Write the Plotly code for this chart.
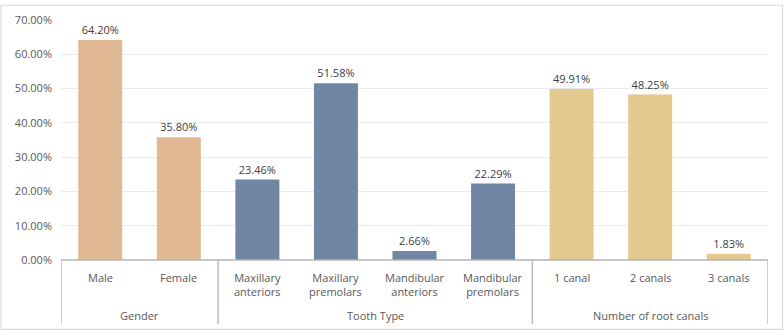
import plotly.graph_objects as go

groups = ["Gender", "Tooth Type", "Number of root canals"]
group_members = [
    ["Male", "Female"],
    ["Maxillary<br>anteriors", "Maxillary<br>premolars", "Mandibular<br>anteriors", "Mandibular<br>premolars"],
    ["1 canal", "2 canals", "3 canals"],
]
gender_values = [0.6420, 0.3580]
tooth_values = [0.2346, 0.5158, 0.0266, 0.2229]
canal_values = [0.4991, 0.4825, 0.0183]
group_values = [gender_values, tooth_values, canal_values]
group_colors = ["#E0B994", "#7086A4", "#E4C98E"]
y_ticks = [0, 0.1, 0.2, 0.3, 0.4, 0.5, 0.6, 0.7]

W, H = 784, 332
ML, MR, MT, MB = 61, 16, 16, 72
PW, PH = W - ML - MR, H - MT - MB

categories = [c for g in group_members for c in g]
text_color = "#595959"
line_color = "#B4B4B4"
font = "Open Sans, Noto Sans, sans-serif"

fig = go.Figure()
start = 0
for g, members, vals, col in zip(groups, group_members, group_values, group_colors):
    idx = list(range(start, start + len(members)))
    fig.add_trace(go.Bar(
        x=idx, y=vals, marker=dict(color=col, line=dict(width=0)),
        text=[f"{v*100:.2f}%" for v in vals], textposition="outside",
        textfont=dict(family=font, size=11, color="#404040"),
        cliponaxis=False, showlegend=False, hoverinfo="skip",
    ))
    start += len(members)

def py(px):
    # pixel offset below plot bottom -> paper coordinate
    return -px / PH

annotations = []
for i, c in enumerate(categories):
    annotations.append(dict(
        x=i, xref="x", y=py(268 - (H - MB)), yref="paper", yanchor="top",
        text=c, showarrow=False, font=dict(family=font, size=11, color=text_color),
    ))
# group labels and separators
shapes = []
start = 0
bounds = [-0.5]
for g, members in zip(groups, group_members):
    n = len(members)
    center = start + (n - 1) / 2
    annotations.append(dict(
        x=center, xref="x", y=py(316 - (H - MB)), yref="paper", yanchor="middle",
        text=g, showarrow=False, font=dict(family=font, size=11, color=text_color),
    ))
    start += n
    bounds.append(start - 0.5)
for b in bounds:
    shapes.append(dict(type="line", xref="x", yref="paper", x0=b, x1=b,
                       y0=0, y1=py(325 - (H - MB)), line=dict(color=line_color, width=1.3)))
shapes.append(dict(type="line", xref="x", yref="paper", x0=-0.5, x1=len(categories) - 0.5,
                   y0=0, y1=0, line=dict(color=line_color, width=1.3)))
# outer chart border
shapes.append(dict(type="rect", xref="paper", yref="paper",
                   x0=(1 - ML) / PW, x1=(W - 1.5 - ML) / PW,
                   y0=-(H - 1.5 - MT - PH) / PH, y1=1 + (MT - 1) / PH,
                   line=dict(color="#D9D9D9", width=1.2)))

fig.update_layout(
    width=W, height=H,
    margin=dict(l=ML, r=MR, t=MT, b=MB),
    paper_bgcolor="white", plot_bgcolor="white",
    bargap=0.44,
    xaxis=dict(range=[-0.5, len(categories) - 0.5], showticklabels=False, showgrid=False,
               zeroline=False, showline=False, fixedrange=True),
    yaxis=dict(range=[0, 0.7], tickvals=y_ticks, tickformat=".2%", showgrid=True,
               gridcolor="#EBEBEB", gridwidth=1, zeroline=False, showline=False,
               ticks="", ticklabelstandoff=8,
               tickfont=dict(family=font, size=11, color=text_color)),
    annotations=annotations, shapes=shapes,
)

fig.write_html("out.html", config={"displayModeBar": False},
               post_script="document.body.style.margin='0';document.body.style.overflow='hidden';")
